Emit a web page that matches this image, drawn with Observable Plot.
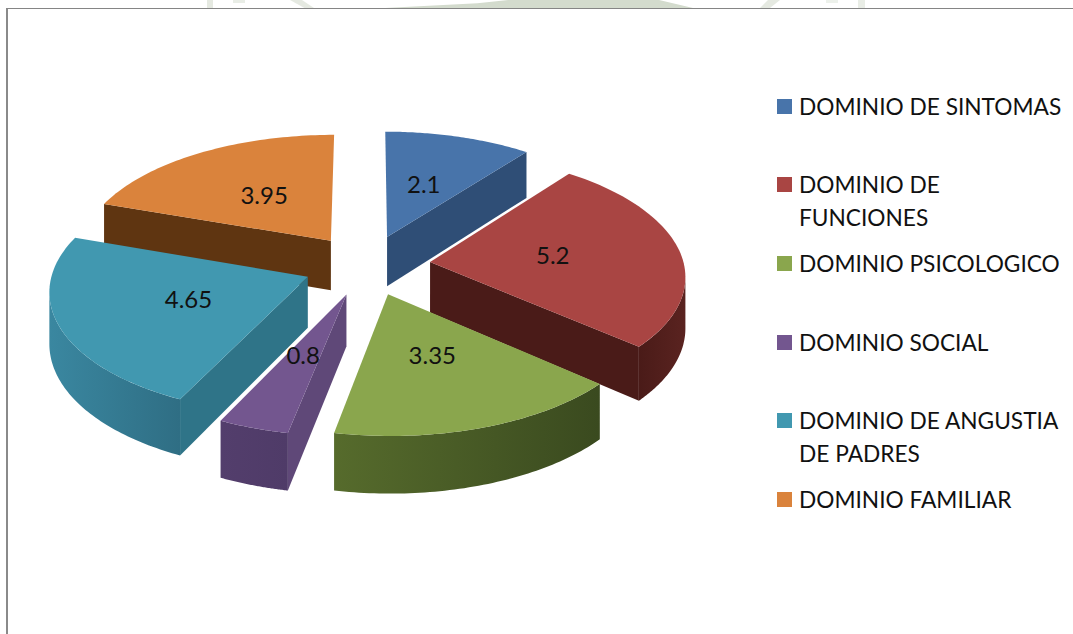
<!DOCTYPE html>
<html><head><meta charset="utf-8">
<script src="https://cdn.jsdelivr.net/npm/d3@7"></script>
<script src="https://cdn.jsdelivr.net/npm/@observablehq/plot@0.6"></script>
<style>
html,body{margin:0;padding:0;background:#fff;width:1073px;height:634px;overflow:hidden}
#wrap{position:relative;width:1073px;height:634px;overflow:hidden}
#frame{position:absolute;left:6px;top:8px;width:1080px;height:640px;border-left:2px solid #8a8a8a;border-top:1.5px solid #858585;box-sizing:border-box}
#plot{position:absolute;left:0;top:0}
.wm{position:absolute;top:0;height:8px;background:#d3dbcd}
.sw{position:absolute;left:777px;width:15px;height:15px}
.lg{position:absolute;left:799px;font:22.7px/32px Lato,sans-serif;color:#111;white-space:nowrap;font-weight:400}
</style></head><body>
<div id="wrap">
<div class="wm" style="left:207px;width:6px;opacity:.6"></div>
<div class="wm" style="left:233px;width:12px;height:3px;opacity:.5"></div>
<div class="wm" style="left:290px;width:24px;clip-path:polygon(0 0,50% 0,100% 100%,60% 100%);opacity:.6"></div>
<div class="wm" style="left:385px;width:308px;clip-path:polygon(0 100%,30% 40%,40% 0,89% 0,100% 100%)"></div>
<div class="wm" style="left:760px;width:20px;clip-path:polygon(40% 0,100% 0,50% 100%,0 100%);opacity:.6"></div>
<div class="wm" style="left:826px;width:12px;height:3px;opacity:.4"></div>
<div class="wm" style="left:858px;width:7px;opacity:.5"></div>
<div id="frame"></div>
<div id="plot"></div>
</div>
<script>
const categories = ["DOMINIO DE SINTOMAS","DOMINIO DE FUNCIONES","DOMINIO PSICOLOGICO","DOMINIO SOCIAL","DOMINIO DE ANGUSTIA DE PADRES","DOMINIO FAMILIAR"];
const values = [2.1, 5.2, 3.35, 0.8, 4.65, 3.95];
const legendLines = [["DOMINIO DE SINTOMAS"],["DOMINIO DE","FUNCIONES"],["DOMINIO PSICOLOGICO"],["DOMINIO SOCIAL"],["DOMINIO DE ANGUSTIA","DE PADRES"],["DOMINIO FAMILIAR"]];
const legendTop = [99,177,256,335,413,492];
const topColors = ["#4874aa","#a94543","#8aa64d","#73568f","#4198b0","#da833c"];
const radialColors = ["#2f4e76","#4a1b18","#3f5021","#5f4878","#2f7488","#5f3511"];
const wallLeft = ["#2f4e76","#4a1b18","#566b2c","#533e6c","#3a87a0","#5f3511"];
const wallRight = ["#2f4e76","#5a2320","#3a4a1f","#4f3b68","#2f6e84","#5f3511"];
const drawOrder = [5,0,1,4,3,2];

// projection of the exploded, tilted pie
const W=1073,H=634,R=254,cx=366.5,cy=264.5;
const tilt=0.477, persp=0.1, depth=50.5/R, explode=0.25;
const total=d3.sum(values);
let acc=0;
const slices=values.map((v,i)=>{const a0=acc/total*2*Math.PI;acc+=v;const a1=acc/total*2*Math.PI;const m=(a0+a1)/2;
  return {i,v,a0,a1,m,ox:explode*Math.sin(m),oy:explode*Math.cos(m)};});
const proj=(X,Y,low=0)=>{const p=1/(1+persp*Y);return {x:X*p,y:-tilt*Y*p+low*depth*p};};
const rim=(s,a,low=0)=>proj(s.ox+Math.sin(a),s.oy+Math.cos(a),low);
const apex=(s,low=0)=>proj(s.ox,s.oy,low);
const arc=(s,a,b,low=0,n=60)=>d3.range(n+1).map(k=>rim(s,a+(b-a)*k/n,low));

const poly=(pts,fill)=>Plot.line(pts,{x:"x",y:"y",fill,stroke:"none",curve:"linear"});
const marks=[];
for(const j of drawOrder){
  const s=slices[j];
  const A=apex(s),mid=rim(s,s.m);
  for(const [a,col] of [[s.a0,radialColors[j]],[s.a1,radialColors[j]]]){
    const E=rim(s,a);
    if(Math.abs(E.x-A.x)<0.02) continue;
    const ly=A.y+(E.y-A.y)*(mid.x-A.x)/(E.x-A.x);
    if(mid.y<ly-1e-3) marks.push(poly([A,E,rim(s,a,1),apex(s,1)],col));
  }
  // outer wall: only where the rim runs right-to-left on screen
  const N=120,th=d3.range(N+1).map(k=>s.a0+(s.a1-s.a0)*k/N);
  const vis=th.filter((t,k)=>k<N&&rim(s,th[k+1]).x<rim(s,t).x-1e-6);
  if(vis.length>1){
    const a=vis[0],b=vis[vis.length-1]+(s.a1-s.a0)/N;
    const topE=arc(s,a,b),lowE=arc(s,a,b,1).reverse();
    marks.push(poly([...topE,...lowE],`url(#wall${j})`));
  }
  marks.push(poly([A,...arc(s,s.a0,s.a1)],topColors[j]));
}
const labels=slices.map(s=>({...proj(s.ox+0.49*Math.sin(s.m),s.oy+0.49*Math.cos(s.m)),t:String(s.v)}));
marks.push(Plot.text(labels,{x:"x",y:"y",text:"t",fontSize:24,fontFamily:"Lato, sans-serif",fill:"#111"}));

const chart=Plot.plot({width:W,height:H,margin:0,
  x:{domain:[-cx/R,(W-cx)/R],range:[0,W],axis:null},
  y:{domain:[-cy/R,(H-cy)/R],range:[0,H],axis:null},
  style:{background:"transparent",overflow:"visible"},marks});
const defs=d3.select(chart).insert("defs",":first-child");
values.forEach((_,j)=>{const g=defs.append("linearGradient").attr("id",`wall${j}`);
  g.append("stop").attr("offset","0%").attr("stop-color",wallLeft[j]);
  g.append("stop").attr("offset","100%").attr("stop-color",wallRight[j]);});
document.getElementById("plot").append(chart);

const wrap=document.getElementById("wrap");
legendLines.forEach((lines,i)=>{
  const sw=document.createElement("div");sw.className="sw";sw.style.top=legendTop[i]+"px";sw.style.background=topColors[i];wrap.append(sw);
  lines.forEach((t,k)=>{const d=document.createElement("div");d.className="lg";d.textContent=t;d.style.top=(legendTop[i]-8+k*33)+"px";wrap.append(d);});
});
</script>
</body></html>
